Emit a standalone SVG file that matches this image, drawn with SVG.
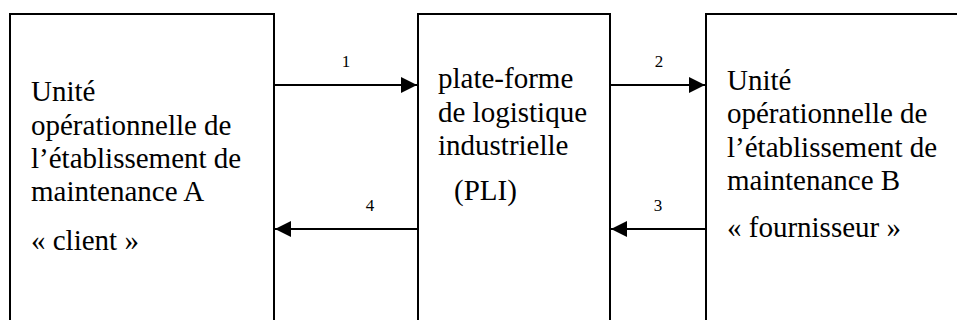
<svg xmlns="http://www.w3.org/2000/svg" width="957" height="320" viewBox="0 0 957 320">
  <style>
    .box { fill: #ffffff; stroke: #000000; stroke-width: 2; }
    .txt { font-family: "Liberation Serif", "Times New Roman", serif; font-size: 29px; fill: #000000; }
    .num { font-family: "Liberation Serif", "Times New Roman", serif; font-size: 17px; fill: #000000; text-anchor: middle; }
    .conn { stroke: #000000; stroke-width: 2; fill: none; }
  </style>
  <defs>
    <marker id="arrow" markerUnits="userSpaceOnUse" markerWidth="16" markerHeight="16" viewBox="0 0 16 16" refX="16" refY="8" orient="auto">
      <path d="M0,0 L16,8 L0,16 Z" fill="#000000"/>
    </marker>
  </defs>
  <rect width="957" height="320" fill="#ffffff"/>
  <g id="node-a">
    <rect class="box" x="10" y="14" width="264" height="320"/>
    <text class="txt" x="31" y="101">Unité</text>
    <text class="txt" x="31" y="134.5">opérationnelle de</text>
    <text class="txt" x="31" y="168">l’établissement de</text>
    <text class="txt" x="31" y="201">maintenance A</text>
    <text class="txt" x="31" y="250">« client »</text>
  </g>
  <g id="node-pli">
    <rect class="box" x="418" y="14" width="192" height="320"/>
    <text class="txt" x="438" y="88">plate-forme</text>
    <text class="txt" x="438" y="121.5">de logistique</text>
    <text class="txt" x="438" y="155">industrielle</text>
    <text class="txt" x="454" y="200">(PLI)</text>
  </g>
  <g id="node-b">
    <rect class="box" x="706" y="14" width="270" height="320"/>
    <text class="txt" x="727" y="89.5">Unité</text>
    <text class="txt" x="727" y="123">opérationnelle de</text>
    <text class="txt" x="727" y="156.5">l’établissement de</text>
    <text class="txt" x="727" y="190">maintenance B</text>
    <text class="txt" x="727" y="237">« fournisseur »</text>
  </g>
  <g id="connectors">
    <line class="conn" x1="274" y1="85" x2="417" y2="85" marker-end="url(#arrow)"/>
    <line class="conn" x1="610" y1="85" x2="705" y2="85" marker-end="url(#arrow)"/>
    <line class="conn" x1="706" y1="229" x2="611" y2="229" marker-end="url(#arrow)"/>
    <line class="conn" x1="418" y1="229" x2="275" y2="229" marker-end="url(#arrow)"/>
    <text class="num" x="346" y="67">1</text>
    <text class="num" x="659" y="67">2</text>
    <text class="num" x="658" y="211">3</text>
    <text class="num" x="370" y="211">4</text>
  </g>
</svg>
